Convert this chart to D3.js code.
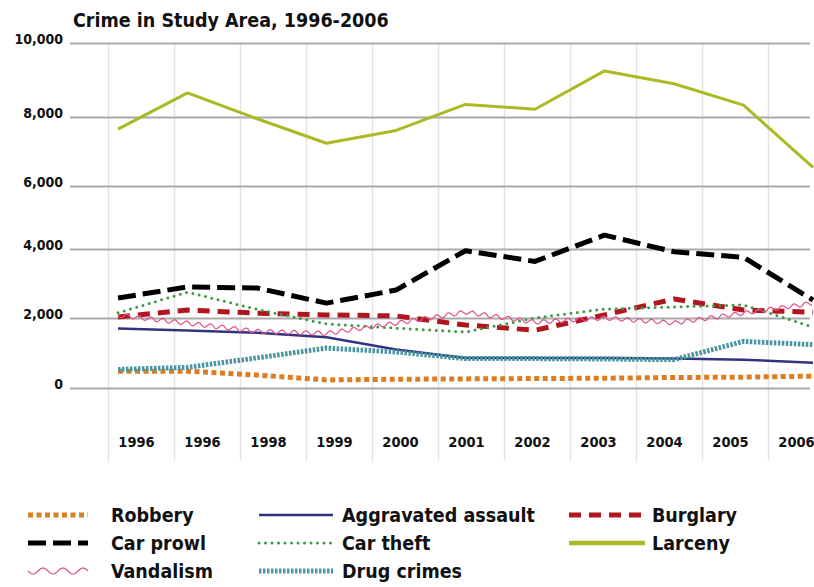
<!DOCTYPE html>
<html>
<head>
<meta charset="utf-8">
<script src="https://cdn.jsdelivr.net/npm/d3@7"></script>
<style>
  body { margin: 0; background: #fff; }
  text { font-family: "Liberation Sans Narrow", "DejaVu Sans Condensed", sans-serif; font-weight: bold; fill: #111; }
</style>
</head>
<body>
<script>
var width = 814,
    height = 587;

// categories as printed on the chart (1996 appears twice in the original)
var years = ["1996", "1996", "1998", "1999", "2000", "2001", "2002", "2003", "2004", "2005", "2006"];
var yTicks = [0, 2000, 4000, 6000, 8000, 10000];

// series values
var robbery    = [480, 480, 370, 230, 250, 260, 270, 280, 300, 310, 340];
var aggravated = [1700, 1640, 1580, 1450, 1100, 860, 860, 860, 840, 810, 720];
var burglary   = [2030, 2230, 2140, 2090, 2060, 1800, 1650, 2090, 2550, 2230, 2170];
var carProwl   = [2580, 2900, 2870, 2430, 2810, 3950, 3640, 4440, 3920, 3760, 2520];
var carTheft   = [2150, 2750, 2250, 1830, 1710, 1600, 2000, 2260, 2320, 2380, 1740];
var larceny    = [7650, 8650, 7950, 7240, 7610, 8340, 8210, 9245, 8900, 8320, 6540];
var vandalism  = [2080, 1850, 1620, 1560, 1850, 2170, 1880, 2000, 1860, 2140, 2430];
var drugs      = [530, 590, 860, 1140, 1030, 840, 840, 830, 810, 1330, 1240];

var series = [
  {name: "Robbery", values: robbery, color: "#dc7d22", width: 5, dash: "5,3.5"},
  {name: "Aggravated assault", values: aggravated, color: "#33337d", width: 2.5, dash: null},
  {name: "Burglary", values: burglary, color: "#b3151f", width: 5, dash: "12,8"},
  {name: "Car prowl", values: carProwl, color: "#000", width: 5, dash: "18,7"},
  {name: "Car theft", values: carTheft, color: "#3b9a42", width: 3, dash: "0,6.5", cap: "round"},
  {name: "Larceny", values: larceny, color: "#abb925", width: 3, dash: null},
  {name: "Vandalism", values: vandalism, color: "#e0528a", width: 1.2, dash: null, wavy: true},
  {name: "Drug crimes", values: drugs, color: "#4a95a1", width: 5, dash: "2.5,1.5"}
];

var svg = d3.select("body").append("svg")
    .attr("width", width)
    .attr("height", height);

// scale for the data points
var x = d3.scalePoint()
    .domain(d3.range(years.length))
    .range([118, 813]);

// bands for the category labels and vertical grid
var xBand = d3.scaleBand()
    .domain(d3.range(years.length))
    .range([108.5, 834.5]);

// the printed grid is not evenly spaced, so follow it piecewise
var y = d3.scaleLinear()
    .domain(yTicks)
    .range([388, 318, 249, 186, 117, 43]);

svg.append("text")
    .attr("x", 73)
    .attr("y", 27)
    .style("font-size", "19.5px")
    .text("Crime in Study Area, 1996-2006");

// vertical grid
svg.append("g").attr("class", "vgrid")
  .selectAll("line")
  .data(d3.range(years.length))
  .enter().append("line")
    .attr("x1", d => xBand(d))
    .attr("x2", d => xBand(d))
    .attr("y1", 43)
    .attr("y2", 461)
    .style("stroke", "#e4e4e6")
    .style("stroke-width", 1.5);

// y axis with horizontal grid
var yAxis = svg.append("g")
    .attr("transform", "translate(70,0)")
    .call(d3.axisLeft(y).tickValues(yTicks).tickSize(-740).tickPadding(7).tickFormat(d3.format(",")));
yAxis.attr("font-family", null).attr("font-size", null);
yAxis.select(".domain").remove();
yAxis.selectAll(".tick line").style("stroke", "#a9a9ad").style("stroke-width", 2);
yAxis.selectAll(".tick text")
    .attr("dy", "0.05em")
    .style("font-size", "14px")
    .style("fill", "#111");

// category labels
svg.append("g").attr("class", "xlabels")
  .selectAll("text")
  .data(years)
  .enter().append("text")
    .attr("x", (d, i) => xBand(i) + xBand.bandwidth() / 2 - 5)
    .attr("y", 447)
    .attr("text-anchor", "middle")
    .style("font-size", "14.5px")
    .text(d => d);

var line = d3.line()
    .x((d, i) => x(i))
    .y(d => y(d));

// turn a straight path into a wavy one
function wavy(node, amp, wl) {
  var len = node.getTotalLength(), pts = [];
  for (var s = 0; s <= len; s += 1) {
    var p = node.getPointAtLength(s),
        a = node.getPointAtLength(Math.max(0, s - 0.5)),
        b = node.getPointAtLength(Math.min(len, s + 0.5));
    var dx = b.x - a.x, dy = b.y - a.y, n = Math.hypot(dx, dy) || 1;
    var off = amp * Math.sin(2 * Math.PI * s / wl);
    pts.push([p.x - dy / n * off, p.y + dx / n * off]);
  }
  return d3.line()(pts);
}

var plot = svg.append("g").attr("class", "plot");

series.forEach(function(s) {
  var p = plot.append("path")
      .attr("d", line(s.values))
      .style("fill", "none")
      .style("stroke", s.color)
      .style("stroke-width", s.width)
      .style("stroke-linecap", s.cap || "butt")
      .style("stroke-linejoin", "round");
  if (s.dash) p.style("stroke-dasharray", s.dash);
  if (s.wavy) p.attr("d", wavy(p.node(), 2, 12));
});

// legend
var legCols = [28, 259, 569],
    legLen = [60, 74, 76],
    legText = [111, 342, 652],
    legRows = [515, 543, 571];

var legend = svg.append("g").attr("class", "legend")
  .selectAll("g")
  .data(series)
  .enter().append("g");

legend.each(function(s, i) {
  var g = d3.select(this),
      c = i % 3,
      r = Math.floor(i / 3),
      x0 = legCols[c],
      yy = legRows[r];
  var sw = g.append("path")
      .attr("d", d3.line()([[x0, yy], [x0 + legLen[c], yy]]))
      .style("fill", "none")
      .style("stroke", s.color)
      .style("stroke-width", s.width === 3 && !s.dash ? 4.5 : s.width)
      .style("stroke-linecap", s.cap || "butt");
  if (s.dash) sw.style("stroke-dasharray", s.dash);
  if (s.wavy) sw.attr("d", wavy(sw.node(), 3, 20));
  g.append("text")
      .attr("x", legText[c])
      .attr("y", yy)
      .attr("dy", "0.35em")
      .style("font-size", "19.5px")
      .text(s.name);
});
</script>
</body>
</html>
